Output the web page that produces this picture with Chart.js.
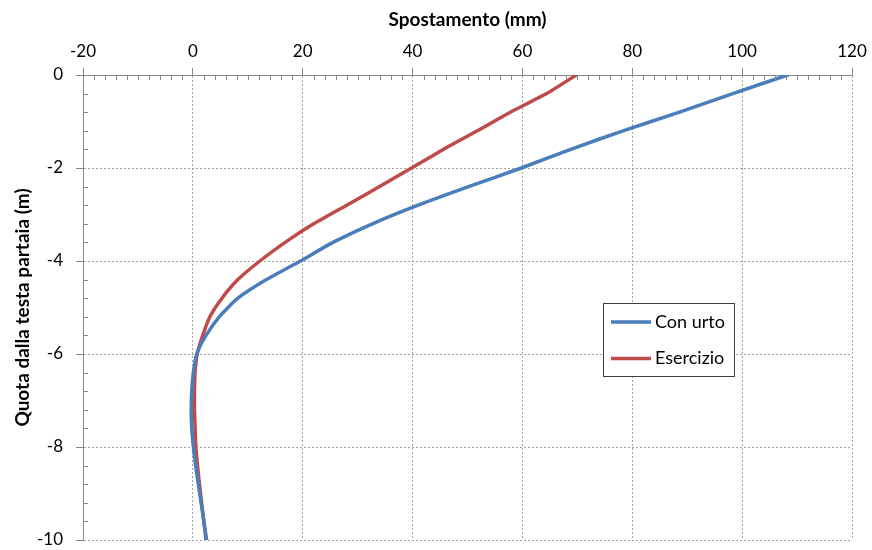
<!DOCTYPE html>
<html>
<head>
<meta charset="utf-8">
<script src="https://cdn.jsdelivr.net/npm/chart.js@4.4.0/dist/chart.umd.min.js"></script>
<style>
    html, body { margin: 0; padding: 0; background: #fff; }
</style>
</head>
<body>
<canvas id="myChart" width="872" height="550"></canvas>
<script>
"use strict";

// ========== DATA ========== //
// depth below the pile head (m)
const depth = [0, -0.4, -0.8, -1.2, -1.6, -2.0, -2.4, -2.8, -3.2, -3.6, -4.0, -4.4, -4.8,
    -5.2, -5.6, -6.0, -6.4, -6.8, -7.2, -7.6, -8.0, -8.4, -8.8, -9.2, -9.6, -10.0];

// displacement (mm) - impact load case
const conUrto = [108.3, 98.3, 88.6, 78.3, 68.8, 59.8, 50.2, 41.0, 32.7, 25.5, 19.6, 13.4, 8.2,
    4.8, 2.4, 0.7, 0.1, -0.2, -0.3, -0.2, 0.1, 0.5, 1.0, 1.5, 2.0, 2.5];

// displacement (mm) - service load case
const esercizio = [69.8, 64.4, 57.8, 51.8, 45.6, 39.8, 34.0, 28.0, 22.0, 16.8, 12.2, 8.2, 5.3,
    3.1, 1.8, 0.8, 0.4, 0.3, 0.3, 0.4, 0.55, 0.85, 1.2, 1.6, 2.0, 2.4];

const seriesNames = ['Con urto', 'Esercizio'];
const seriesColors = ['#4a7ebb', '#be4b48'];

const xTicks = [-20, 0, 20, 40, 60, 80, 100, 120];
const yTicks = [0, -2, -4, -6, -8, -10];

const AXIS_COLOR = '#868686';
const GRID_COLOR = '#a3a3a3';
const FONT = 'Lato, "Open Sans", sans-serif';

// build {x, y} points for a scatter line
function toPoints(values) {
    return values.map((v, i) => ({ x: v, y: depth[i] }));
}

// ========== PLUGINS ========== //
// minor tick marks pointing into the plot area
const minorTicks = {
    id: 'minorTicks',
    afterDraw(chart) {
        const { ctx, chartArea } = chart;
        const x = chart.scales.x;
        const y = chart.scales.y;
        ctx.save();
        ctx.strokeStyle = AXIS_COLOR;
        ctx.lineWidth = 1;
        ctx.beginPath();
        for (let i = 0; i <= 70; i++) {
            if (i % 10 === 0) continue;
            let px = Math.round(x.getPixelForValue(xTicks[0] + i * 2)) + 0.5;
            ctx.moveTo(px, chartArea.top);
            ctx.lineTo(px, chartArea.top + 5);
        }
        for (let i = 0; i <= 25; i++) {
            if (i % 5 === 0) continue;
            let py = Math.round(y.getPixelForValue(-i * 0.4)) + 0.5;
            ctx.moveTo(chartArea.left, py);
            ctx.lineTo(chartArea.left + 5, py);
        }
        ctx.stroke();
        ctx.restore();
    }
};

// boxed legend sitting inside the plot
const boxLegend = {
    id: 'boxLegend',
    afterDraw(chart) {
        const ctx = chart.ctx;
        const left = 603, top = 303, w = 131, h = 73;
        ctx.save();
        ctx.fillStyle = '#fff';
        ctx.fillRect(left, top, w, h);
        ctx.strokeStyle = '#404040';
        ctx.lineWidth = 1;
        ctx.strokeRect(left + 0.5, top + 0.5, w, h);
        ctx.font = '18px ' + FONT;
        ctx.textBaseline = 'middle';
        chart.data.datasets.forEach((ds, i) => {
            let rowY = top + 19 + i * 36.5;
            ctx.strokeStyle = ds.borderColor;
            ctx.lineWidth = 3.5;
            ctx.beginPath();
            ctx.moveTo(left + 8, rowY);
            ctx.lineTo(left + 48, rowY);
            ctx.stroke();
            ctx.fillStyle = '#000';
            ctx.fillText(ds.label, left + 52, rowY);
        });
        ctx.restore();
    }
};

// ========== CHART ========== //
let chartContainer = document.querySelector('#myChart');
let chart = new Chart(chartContainer, {
    type: 'scatter',
    data: {
        datasets: [conUrto, esercizio].map((values, i) => ({
            label: seriesNames[i],
            data: toPoints(values),
            showLine: true,
            borderColor: seriesColors[i],
            backgroundColor: seriesColors[i],
            borderWidth: 3.5,
            pointRadius: 0,
            tension: 0.2,
            borderJoinStyle: 'round',
            borderCapStyle: 'round'
        }))
    },
    options: {
        responsive: false,
        animation: false,
        devicePixelRatio: 1,
        layout: { padding: { left: 0, right: 20, top: 0, bottom: 10 } },
        plugins: {
            legend: { display: false },
            tooltip: { enabled: false }
        },
        scales: {
            x: {
                type: 'linear',
                position: 'top',
                min: -20,
                max: 120,
                afterBuildTicks: scale => { scale.ticks = xTicks.map(v => ({ value: v })); },
                afterFit: scale => {
                    scale.height = 75;
                    scale.paddingLeft = 0;
                    scale.paddingRight = 0;
                },
                ticks: { color: '#000', font: { family: FONT, size: 17 }, padding: 6, maxRotation: 0 },
                grid: {
                    color: GRID_COLOR,
                    lineWidth: 1,
                    tickColor: AXIS_COLOR,
                    tickLength: 7,
                    tickBorderDash: []
                },
                border: { display: true, color: AXIS_COLOR, width: 1, dash: [2, 2] },
                title: {
                    display: true,
                    text: 'Spostamento (mm)',
                    color: '#000',
                    font: { family: FONT, size: 19, weight: 'bold' },
                    padding: { top: 8, bottom: 0 }
                }
            },
            y: {
                type: 'linear',
                min: -10,
                max: 0,
                afterBuildTicks: scale => { scale.ticks = yTicks.map(v => ({ value: v })); },
                afterFit: scale => {
                    scale.width = 83;
                    scale.paddingTop = 0;
                    scale.paddingBottom = 0;
                },
                ticks: { color: '#000', font: { family: FONT, size: 17 }, padding: 13 },
                grid: {
                    color: GRID_COLOR,
                    lineWidth: 1,
                    tickColor: AXIS_COLOR,
                    tickLength: 7,
                    tickBorderDash: []
                },
                border: { display: true, color: AXIS_COLOR, width: 1, dash: [2, 2] },
                title: {
                    display: true,
                    text: 'Quota dalla testa partaia (m)',
                    color: '#000',
                    font: { family: FONT, size: 19, weight: 'bold' },
                    padding: { top: 11, bottom: 0 }
                }
            }
        }
    },
    plugins: [minorTicks, boxLegend]
});
</script>
</body>
</html>
